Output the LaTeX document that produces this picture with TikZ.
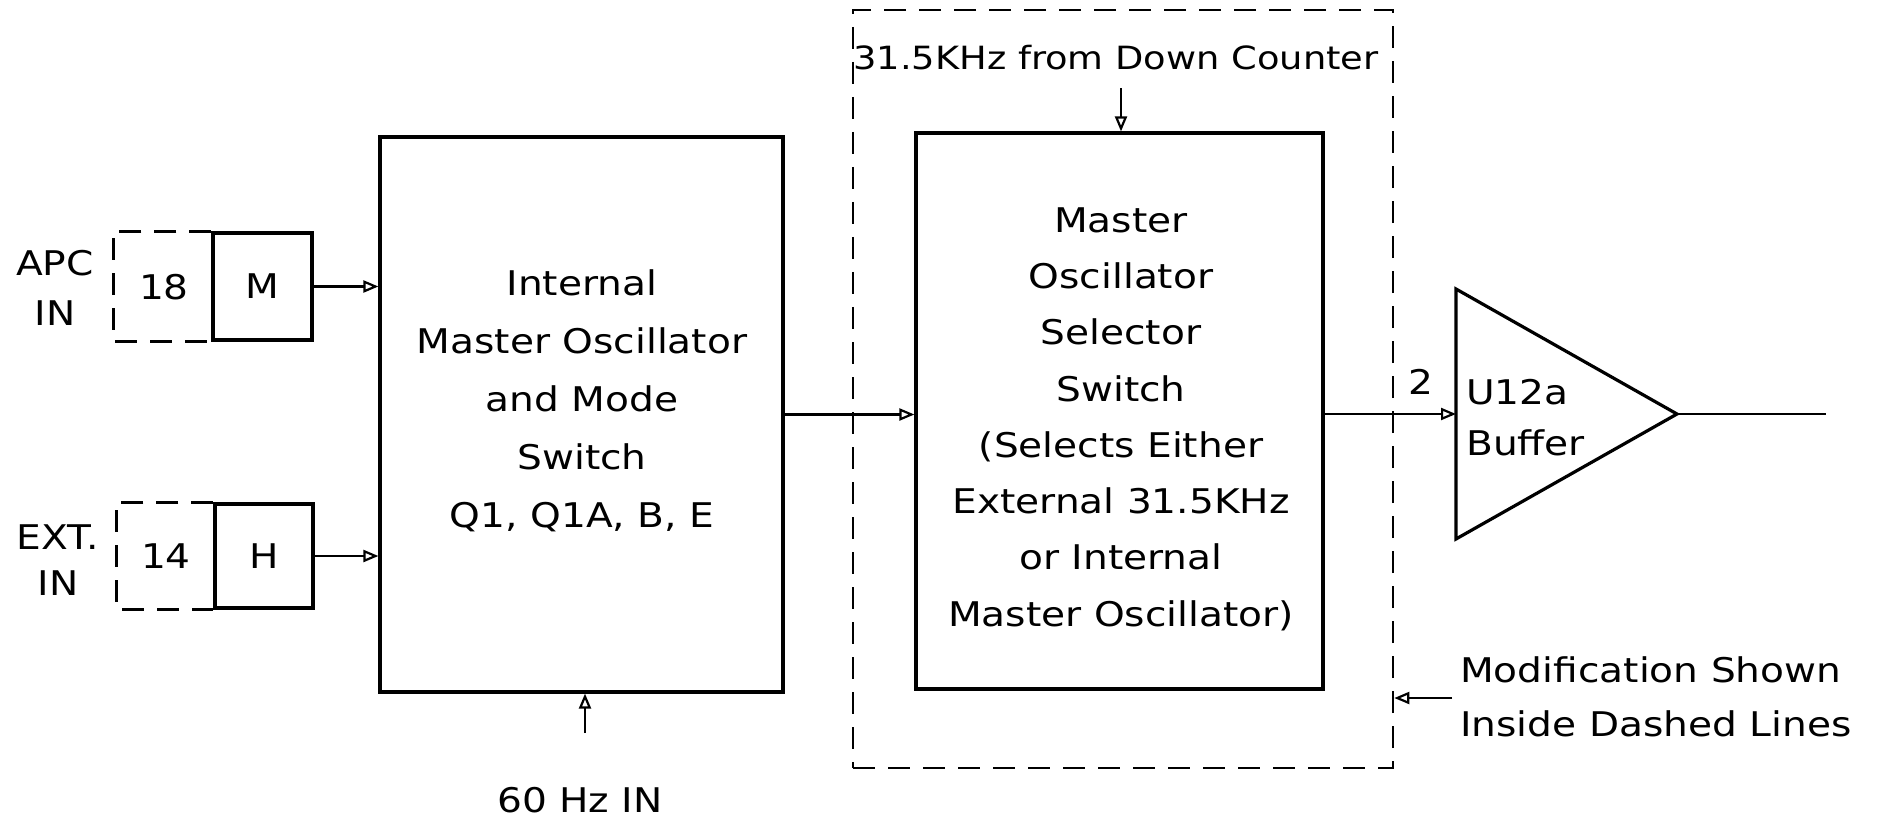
\documentclass[tikz,border=0pt]{standalone}
\usepackage{fontspec}
\setmainfont{DejaVu Sans}[FakeStretch=1.15]
\usetikzlibrary{arrows.meta}
\begin{document}
\begin{tikzpicture}[x=1bp,y=-1bp,
  box/.style={draw, line width=3.2bp, inner sep=0pt, font=\fontsize{34bp}{40bp}\selectfont},
  dline/.style={line width=2.6bp, dash pattern=on 22bp off 13bp},
  arr/.style={line width=2.2bp, -{Triangle[open,length=15bp,width=12bp,line width=2.2bp]}},
  lbl/.style={inner sep=0pt, align=center, font=\fontsize{34bp}{58bp}\selectfont},
  ]
\useasboundingbox[fill=white] (0,0) rectangle (1894,822);

% left inputs
\node[lbl, font=\fontsize{34bp}{50bp}\selectfont] (apc) at (55,288) {APC\\IN};
\node[lbl, font=\fontsize{34bp}{46bp}\selectfont] (ext) at (58,560) {EXT.\\IN};
\node[box, minimum width=99bp, minimum height=107bp] (M) at (262.5,286.5) {M};
\node[box, minimum width=98bp, minimum height=104bp] (H) at (264,556) {H};
\draw[dline] (M.north west) -- ++(-98,0) |- (M.south west);
\draw[dline] (H.north west) -- ++(-97,0) |- (H.south west);
\node[lbl] (n18) at (164,287) {18};
\node[lbl] (n14) at (166,556) {14};

% internal master oscillator
\node[box, minimum width=403bp, minimum height=555bp] (osc) at (581.5,414.5) {};
\node[lbl] (osct) at (582,401) {Internal\\Master Oscillator\\and Mode\\Switch\\Q1, Q1A, B, E};
\draw[arr] (M.east) -- (M.east -| osc.west);
\draw[arr] (H.east) -- (H.east -| osc.west);
\coordinate (hzs) at (585,733);
\draw[arr] (hzs) -- (hzs |- osc.south);
\node[lbl] (hz) at (580,800) {60 Hz IN};

% modification (dashed)
\node[draw, dline, minimum width=540bp, minimum height=758bp, inner sep=0pt] (mod) at (1123,389) {};
\node[lbl, font=\fontsize{32bp}{40bp}\selectfont] (dc) at (1116,58) {31.5KHz from Down Counter};
\node[box, minimum width=407bp, minimum height=556bp] (sel) at (1119.5,411) {};
\node[lbl, font=\fontsize{34bp}{56.3bp}\selectfont] (selt) at (1121,419) {Master\\Oscillator\\Selector\\Switch\\(Selects Either\\External 31.5KHz\\or Internal\\Master Oscillator)};
\coordinate (dcs) at (1121,88);
\draw[arr] (dcs) -- (dcs |- sel.north);
\draw[arr] (osc.east) -- (osc.east -| sel.west);

% buffer
\coordinate (tl) at (1456,289);
\coordinate (bl) at (1456,539);
\coordinate (tip) at (1677,414);
\coordinate (tin) at (1456,414);
\coordinate (out) at (1826,414);
\draw[line width=3.2bp, line join=miter] (tl) -- (tip) -- (bl) -- cycle;
\draw[arr] (sel.east |- tin) -- (tin);
\draw[line width=2.2bp] (tip) -- (out);
\node[lbl] (two) at (1421,382) {2};
\node[lbl, anchor=west] (u12) at (1466,392) {U12a};
\node[lbl, anchor=west] (buf) at (1466,443) {Buffer};

% note
\node[lbl, align=left, anchor=west, font=\fontsize{34bp}{54bp}\selectfont] (note) at (1460,697) {Modification Shown\\Inside Dashed Lines};
\coordinate (ms) at (1452,698);
\draw[arr] (ms) -- (ms -| mod.east);
\end{tikzpicture}
\end{document}
